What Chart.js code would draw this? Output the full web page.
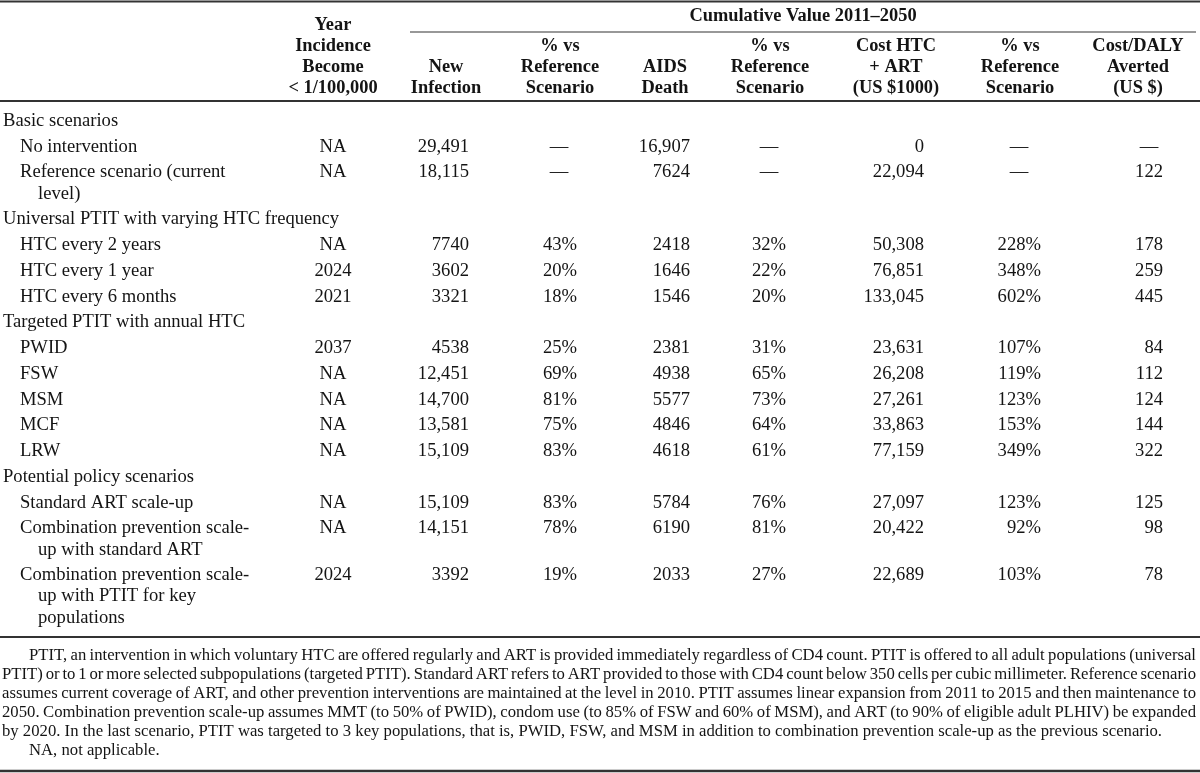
<!DOCTYPE html>
<html>
<head>
<meta charset="utf-8">
<title>Cumulative value 2011-2050</title>
<script src="https://cdn.jsdelivr.net/npm/chart.js@4.4.0/dist/chart.umd.min.js"></script>
<style>
    html, body { margin: 0; padding: 0; background: #fff; }
    #wrap { width: 1200px; height: 773px; position: relative; }
</style>
</head>
<body>
<div id="wrap"><canvas id="tableChart"></canvas></div>
<script>
const groupNames = [
    'Basic scenarios',
    'Universal PTIT with varying HTC frequency',
    'Targeted PTIT with annual HTC',
    'Potential policy scenarios'
];
const scenarioGroup = [0, 0, 1, 1, 1, 2, 2, 2, 2, 2, 3, 3, 3];
const scenarioNames = [
    ['No intervention'],
    ['Reference scenario (current', 'level)'],
    ['HTC every 2 years'],
    ['HTC every 1 year'],
    ['HTC every 6 months'],
    ['PWID'],
    ['FSW'],
    ['MSM'],
    ['MCF'],
    ['LRW'],
    ['Standard ART scale-up'],
    ['Combination prevention scale-', 'up with standard ART'],
    ['Combination prevention scale-', 'up with PTIT for key', 'populations']
];
const yearBelowTarget = ['NA', 'NA', 'NA', '2024', '2021', '2037', 'NA', 'NA', 'NA', 'NA', 'NA', 'NA', '2024'];
const newInfection = [29491, 18115, 7740, 3602, 3321, 4538, 12451, 14700, 13581, 15109, 15109, 14151, 3392];
const newInfectionPct = [null, null, 43, 20, 18, 25, 69, 81, 75, 83, 83, 78, 19];
const aidsDeath = [16907, 7624, 2418, 1646, 1546, 2381, 4938, 5577, 4846, 4618, 5784, 6190, 2033];
const aidsDeathPct = [null, null, 32, 22, 20, 31, 65, 73, 64, 61, 76, 81, 27];
const costHtcArt = [0, 22094, 50308, 76851, 133045, 23631, 26208, 27261, 33863, 77159, 27097, 20422, 22689];
const costPct = [null, null, 228, 348, 602, 107, 119, 123, 153, 349, 123, 92, 103];
const costPerDaly = [null, 122, 178, 259, 445, 84, 112, 124, 144, 322, 125, 98, 78];

const spanTitle = 'Cumulative Value 2011\u20132050';
const columnHeaders = [
    ['Year', 'Incidence', 'Become', '< 1/100,000'],
    ['New', 'Infection'],
    ['% vs', 'Reference', 'Scenario'],
    ['AIDS', 'Death'],
    ['% vs', 'Reference', 'Scenario'],
    ['Cost HTC', '+ ART', '(US $1000)'],
    ['% vs', 'Reference', 'Scenario'],
    ['Cost/DALY', 'Averted', '(US $)']
];
const footnoteLines = [
    'PTIT, an intervention in which voluntary HTC are offered regularly and ART is provided immediately regardless of CD4 count. PTIT is offered to all adult populations (universal',
    'PTIT) or to 1 or more selected subpopulations (targeted PTIT). Standard ART refers to ART provided to those with CD4 count below 350 cells per cubic millimeter. Reference scenario',
    'assumes current coverage of ART, and other prevention interventions are maintained at the level in 2010. PTIT assumes linear expansion from 2011 to 2015 and then maintenance to',
    '2050. Combination prevention scale-up assumes MMT (to 50% of PWID), condom use (to 85% of FSW and 60% of MSM), and ART (to 90% of eligible adult PLHIV) be expanded',
    'by 2020. In the last scenario, PTIT was targeted to 3 key populations, that is, PWID, FSW, and MSM in addition to combination prevention scale-up as the previous scenario.',
    'NA, not applicable.'
];

// ---- layout (page units = pixels on the 1200 x 773 scales) ----
const FONT = '"Liberation Serif", "Times New Roman", serif';
const BODY_SIZE = 18.6;
const HEAD_SIZE = 18.4;
const NOTE_SIZE = 16.7;
const INK = '#141414';
const RULE = '#333';

const rowStart = 121, rowStep = 25.75, wrapStep = 21.2;
const labelX = 3, itemX = 20, wrapX = 38;
const headerLineY = [25, 46, 67, 88];
const headerCenters = [333, 446, 560, 665, 770, 896, 1020, 1138];
const cols = [
    { values: yearBelowTarget, x: 333, align: 'center', fmt: v => v },
    { values: newInfection, x: 469, align: 'right', fmt: fmtNum },
    { values: newInfectionPct, x: 577, dashX: 559, align: 'right', fmt: v => v + '%' },
    { values: aidsDeath, x: 690, align: 'right', fmt: fmtNum },
    { values: aidsDeathPct, x: 786, dashX: 769, align: 'right', fmt: v => v + '%' },
    { values: costHtcArt, x: 924, align: 'right', fmt: fmtNum },
    { values: costPct, x: 1041, dashX: 1019, align: 'right', fmt: v => v + '%' },
    { values: costPerDaly, x: 1163, dashX: 1149, align: 'right', fmt: fmtNum }
];
const noteY = [656, 675, 694, 713, 732, 751];
const noteIndent = 29, noteLeft = 2, noteRight = 1196;

function fmtNum(v) {
    // journal style: thousands separator only from 5 digits up
    return v >= 10000 ? v.toLocaleString('en-US') : String(v);
}

// line positions for the stub column
const stubLines = [];
const scenarioY = [];
let y = rowStart;
groupNames.forEach((g, gi) => {
    stubLines.push({ text: g, x: labelX, y: y });
    y += rowStep;
    scenarioGroup.forEach((sg, si) => {
        if (sg !== gi) return;
        scenarioY[si] = y;
        scenarioNames[si].forEach((line, li) => {
            stubLines.push({ text: line, x: li === 0 ? itemX : wrapX, y: y + li * wrapStep });
        });
        y += (scenarioNames[si].length - 1) * wrapStep + rowStep;
    });
});

// one invisible scatter dataset per column; its points are the cell anchors
const datasets = cols.map((c, ci) => ({
    label: 'col' + ci,
    data: c.values.map((v, i) => ({
        x: v === null ? c.dashX : c.x,
        y: scenarioY[i],
        text: v === null ? '\u2014' : c.fmt(v),
        align: v === null ? 'center' : c.align
    })),
    pointRadius: 0,
    pointHoverRadius: 0
}));

const tablePlugin = {
    id: 'tableText',
    afterDraw(chart) {
        const ctx = chart.ctx;
        const xs = chart.scales.x, ys = chart.scales.y;
        const px = v => xs.getPixelForValue(v);
        const py = v => ys.getPixelForValue(v);
        ctx.save();
        ctx.fillStyle = INK;
        ctx.strokeStyle = RULE;

        const rule = (x0, x1, yy, w) => {
            ctx.lineWidth = w;
            ctx.beginPath();
            ctx.moveTo(px(x0), py(yy));
            ctx.lineTo(px(x1), py(yy));
            ctx.stroke();
        };
        rule(0, 1200, 1.5, 2.2);
        rule(410, 1196, 32, 1.2);
        rule(0, 1200, 101, 2.2);
        rule(0, 1200, 637, 2);
        rule(0, 1200, 771, 2.4);

        // header
        ctx.font = 'bold ' + HEAD_SIZE + 'px ' + FONT;
        ctx.textBaseline = 'middle';
        ctx.textAlign = 'center';
        ctx.fillText(spanTitle, px(803), py(16));
        columnHeaders.forEach((lines, ci) => {
            const off = headerLineY.length - lines.length;
            lines.forEach((t, li) => ctx.fillText(t, px(headerCenters[ci]), py(headerLineY[off + li])));
        });

        // stub
        ctx.font = BODY_SIZE + 'px ' + FONT;
        ctx.textAlign = 'left';
        stubLines.forEach(l => ctx.fillText(l.text, px(l.x), py(l.y)));

        // body cells from the dataset elements
        chart.data.datasets.forEach((ds, di) => {
            chart.getDatasetMeta(di).data.forEach((el, i) => {
                const d = ds.data[i];
                ctx.textAlign = d.align;
                ctx.fillText(d.text, el.x, el.y);
            });
        });

        // footnote, justified except paragraph ends
        ctx.font = NOTE_SIZE + 'px ' + FONT;
        ctx.textAlign = 'left';
        footnoteLines.forEach((line, i) => {
            const start = (i === 0 || i === 5) ? noteIndent : noteLeft;
            const justify = i < 4;
            const words = line.split(' ');
            if (!justify) {
                ctx.fillText(line, px(start), py(noteY[i]));
                return;
            }
            const widths = words.map(w => ctx.measureText(w).width);
            const total = widths.reduce((a, b) => a + b, 0);
            const gap = (px(noteRight) - px(start) - total) / (words.length - 1);
            let cx = px(start);
            words.forEach((w, wi) => {
                ctx.fillText(w, cx, py(noteY[i]));
                cx += widths[wi] + gap;
            });
        });
        ctx.restore();
    }
};

new Chart(document.getElementById('tableChart').getContext('2d'), {
    type: 'scatter',
    data: { datasets: datasets },
    options: {
        responsive: true,
        maintainAspectRatio: false,
        animation: false,
        events: [],
        layout: { padding: 0 },
        plugins: { legend: { display: false }, tooltip: { enabled: false } },
        scales: {
            x: { type: 'linear', min: 0, max: 1200, display: false },
            y: { type: 'linear', min: 0, max: 773, reverse: true, display: false }
        }
    },
    plugins: [tablePlugin]
});
</script>
</body>
</html>
